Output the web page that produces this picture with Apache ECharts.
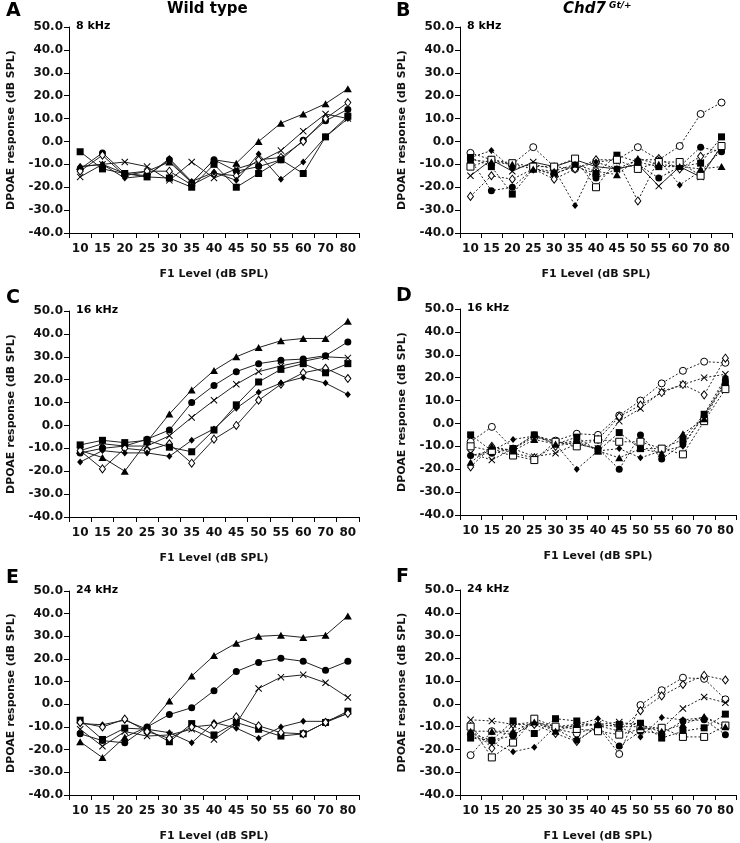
<!DOCTYPE html>
<html>
<head>
<meta charset="utf-8">
<script src="https://cdn.jsdelivr.net/npm/echarts@6/dist/echarts.min.js"></script>
<style>html,body{margin:0;padding:0;background:#fff}#main{width:740px;height:843px}</style>
</head>
<body>
<div id="main"></div>
<script>
const levels = ['10','15','20','25','30','35','40','45','50','55','60','70','80'];

// Wild type, 8 kHz
const wt8Tri  = [-11,-10,-14,-13,-9,-18,-8,-9.5,0,8,12,16.5,23];
const wt8Circ = [-12,-5,-14,-15,-8,-18,-8,-13,-11,-8,0.5,9,14];
const wt8X    = [-15.5,-10,-9,-11,-17,-9,-16,-12,-9,-4,4.5,12,10];
const wt8ODia = [-13,-6,-15,-13,-13,-19,-14,-15,-8,-7,0,10,17];
const wt8Sq   = [-4.5,-12,-14,-15.5,-16,-20,-10,-20,-14,-8,-14,2,11];
const wt8Dia  = [-11,-10,-16,-15,-7.5,-17.5,-13.5,-17,-5.5,-16.5,-9,2,10];

// Chd7 Gt/+, 8 kHz
const het8OCirc = [-5,-8,-10,-2.5,-11,-12,-9,-8,-2.5,-8,-2,12,17];
const het8Sq    = [-7,-11,-23,-12,-14,-11,-14,-6,-9,-11,-11,-9.5,2];
const het8Circ  = [-8,-21.5,-20,-12,-14.5,-10,-16,-12,-10,-16,-11,-2.5,-4.5];
const het8ODia  = [-24,-15,-16.5,-12,-16.5,-12,-8,-8,-26,-7.5,-12,-6.5,-3];
const het8Dia   = [-7,-4,-12,-10,-12,-28,-9,-12,-8,-8,-19,-13,-4];
const het8X     = [-15,-8,-13,-9,-11,-8,-11,-12,-10,-19.5,-11,-15.5,-2];
const het8OSq   = [-11,-8,-9.5,-11,-11,-7.5,-20,-8,-12,-9,-9,-15,-2];
const het8Tri   = [-8,-9,-10,-12,-13,-10,-13,-14.5,-7.5,-10,-11,-12,-11];

// Wild type, 16 kHz
const wt16Tri  = [-11,-14,-20,-7,5,15.5,24,30,34,37,38,38,45.5];
const wt16Circ = [-12,-10,-9,-6,-2,10,17.5,23.5,27,28.5,29,30.5,36.5];
const wt16X    = [-11,-8,-9,-9,-4.5,3.5,11,18,23.5,26,28,30,29.5];
const wt16ODia = [-11,-19,-10,-11,-8,-16.5,-6,0,11,18,23,25,20.5];
const wt16Sq   = [-8.5,-6.5,-7.5,-6.5,-9.5,-11.5,-2,9,19,24.5,27,23,27];
const wt16Dia  = [-16,-11,-12,-12,-13.5,-6.5,-1.5,7.5,14.5,18.5,21,18.5,13.5];

// Chd7 Gt/+, 16 kHz
const het16OCirc = [-8,-1.5,-11,-6,-7.5,-4.5,-5,3.5,10,17.5,23,27,26.5];
const het16X     = [-13,-16,-11,-14.5,-13,-9,-11,1,6.5,14,17,20,21.5];
const het16ODia  = [-19,-10,-13,-15,-10,-8,-7,3,8,13.5,17,12.5,28.5];
const het16Sq    = [-5,-12,-11,-5,-9,-6,-12,-4,-11,-11,-7,4,17];
const het16Circ  = [-14,-13,-11,-5,-8,-9,-11,-20,-5,-15.5,-9,3,19];
const het16Dia   = [-14,-12,-7,-5.5,-9,-20,-12,-11,-15,-12,-10,4,20];
const het16OSq   = [-10,-12,-14,-16,-8,-10,-7,-8,-8,-11,-13.5,1,15];
const het16Tri   = [-17,-10,-12,-7,-9,-7.5,-12,-15,-11,-13,-4.5,2,18];

// Wild type, 24 kHz
const wt24Tri  = [-16.5,-23.5,-14.5,-10,1.5,12.5,21.5,27,30,30.5,29.5,30.5,39];
const wt24Circ = [-13,-16,-17,-10,-4.5,-1.5,6,14.5,18.5,20.3,19,15,19];
const wt24X    = [-11,-18.5,-12,-14,-13.5,-11,-15.5,-8.5,7,12,13,9.5,3];
const wt24Sq   = [-7,-15.5,-10.5,-11,-16.5,-8.5,-13.5,-8,-11,-14,-13,-8,-3];
const wt24Dia  = [-8.5,-9,-7,-11,-12.5,-17,-8,-10.5,-15,-10,-7.5,-7.5,-4];
const wt24ODia = [-8,-10,-6.5,-12,-15,-10,-9,-5.5,-9.5,-12.5,-13,-8,-4];

// Chd7 Gt/+, 24 kHz
const het24OCirc = [-22.5,-12,-13.5,-8.5,-11,-13,-10,-22,-0.5,6,11.5,11,2];
const het24ODia  = [-10,-19.5,-9,-9,-13,-16.5,-9.5,-12,-3,3.5,8.5,12.5,10.5];
const het24X     = [-7,-7.5,-9,-8,-10,-10,-9,-8,-9.5,-11,-2,3,0.5];
const het24Sq    = [-15,-16,-7.5,-13,-6.5,-7.5,-10,-9,-8.5,-15,-12,-10.5,-4.5];
const het24Circ  = [-13,-16,-14,-7.5,-11,-16,-10,-18.5,-12,-13,-7.5,-7,-13.5];
const het24Dia   = [-14,-17,-21,-19,-10,-9,-6.5,-10,-14.5,-6,-7,-6,-10];
const het24OSq   = [-10,-23.5,-17,-6.5,-10,-11,-12,-13.5,-11,-10.5,-14.5,-14.5,-9.5];
const het24Tri   = [-12,-12,-12,-8,-12,-9,-9,-10,-10,-12,-9,-5.5,-10];

const XPATH = 'path://M0,1L1,0L5,4L9,0L10,1L6,5L10,9L9,10L5,6L1,10L0,9L4,5Z';
const marks = {
  tri:   { symbol: 'triangle', fill: '#000', size: [8, 7] },
  circ:  { symbol: 'circle',   fill: '#000', size: 7 },
  ocirc: { symbol: 'circle',   fill: '#fff', size: 7 },
  sq:    { symbol: 'rect',     fill: '#000', size: 7 },
  osq:   { symbol: 'rect',     fill: '#fff', size: 7 },
  dia:   { symbol: 'diamond',  fill: '#000', size: [6, 7] },
  odia:  { symbol: 'diamond',  fill: '#fff', size: [6, 8] },
  x:     { symbol: XPATH,      fill: '#000', size: 7 }
};

const panels = [
  { letter: 'A', freq: '8 kHz', left: 69, top: 27, width: 290, height: 206, dotted: false,
    lines: [[wt8Tri,'tri'],[wt8Circ,'circ'],[wt8X,'x'],[wt8ODia,'odia'],[wt8Sq,'sq'],[wt8Dia,'dia']] },
  { letter: 'B', freq: '8 kHz', left: 460, top: 27, width: 272, height: 206, dotted: true,
    lines: [[het8OCirc,'ocirc'],[het8Sq,'sq'],[het8Circ,'circ'],[het8ODia,'odia'],[het8Dia,'dia'],[het8X,'x',true],[het8OSq,'osq'],[het8Tri,'tri']] },
  { letter: 'C', freq: '16 kHz', left: 69, top: 311, width: 290, height: 206, dotted: false,
    lines: [[wt16Tri,'tri'],[wt16Circ,'circ'],[wt16X,'x'],[wt16ODia,'odia'],[wt16Sq,'sq'],[wt16Dia,'dia']] },
  { letter: 'D', freq: '16 kHz', left: 460, top: 309, width: 276, height: 206, dotted: true,
    lines: [[het16OCirc,'ocirc'],[het16X,'x'],[het16ODia,'odia'],[het16Sq,'sq'],[het16Circ,'circ'],[het16Dia,'dia'],[het16OSq,'osq'],[het16Tri,'tri']] },
  { letter: 'E', freq: '24 kHz', left: 69, top: 591, width: 290, height: 208, dotted: false,
    lines: [[wt24Tri,'tri'],[wt24Circ,'circ'],[wt24X,'x'],[wt24Sq,'sq'],[wt24Dia,'dia'],[wt24ODia,'odia']] },
  { letter: 'F', freq: '24 kHz', left: 460, top: 590, width: 276, height: 209, dotted: true,
    lines: [[het24OCirc,'ocirc'],[het24ODia,'odia'],[het24X,'x'],[het24Sq,'sq'],[het24Circ,'circ'],[het24Dia,'dia'],[het24OSq,'osq'],[het24Tri,'tri']] }
];

const FONT = 'DejaVu Sans';
const grid = [], xAxis = [], yAxis = [], series = [], graphic = [];

panels.forEach((p, i) => {
  grid.push({ left: p.left, top: p.top, width: p.width, height: p.height });
  xAxis.push({
    type: 'category', gridIndex: i, data: levels, boundaryGap: true,
    name: 'F1 Level (dB SPL)', nameLocation: 'middle', nameGap: 36,
    nameTextStyle: { fontFamily: FONT, fontWeight: 'bold', fontSize: 11, color: '#111' },
    axisLine: { onZero: false, lineStyle: { color: '#000', width: 1 } },
    axisTick: { show: true, length: 5, alignWithLabel: false, lineStyle: { color: '#000' } },
    axisLabel: { interval: 0, margin: 10, fontFamily: FONT, fontWeight: 'bold', fontSize: 12, color: '#111' },
    splitLine: { show: false }
  });
  yAxis.push({
    type: 'value', gridIndex: i, min: -40, max: 50, interval: 10,
    name: 'DPOAE response (dB SPL)', nameLocation: 'middle', nameGap: 52,
    nameTextStyle: { fontFamily: FONT, fontWeight: 'bold', fontSize: 11, color: '#111' },
    axisLine: { show: true, lineStyle: { color: '#000', width: 1 } },
    axisTick: { show: true, length: 5, lineStyle: { color: '#000' } },
    axisLabel: { margin: 6, fontFamily: FONT, fontWeight: 'bold', fontSize: 12, color: '#111',
      formatter: v => v.toFixed(1) },
    splitLine: { show: false }
  });
  p.lines.forEach(([vals, kind, solid]) => {
    const m = marks[kind];
    series.push({
      type: 'line', xAxisIndex: i, yAxisIndex: i, data: vals,
      symbol: m.symbol, symbolSize: m.size, showAllSymbol: true,
      lineStyle: { color: '#222', width: 1, type: (p.dotted && !solid) ? [2, 2] : 'solid' },
      itemStyle: { color: m.fill, borderColor: '#000', borderWidth: m.fill === '#fff' ? 1 : 0 },
      emphasis: { disabled: true }, animation: false
    });
  });
  const lx = p.left < 200 ? 6 : 396;
  graphic.push({ type: 'text', left: lx, top: i < 2 ? 2 : p.top - 22,
    style: { text: p.letter, fontFamily: FONT, fontWeight: 'bold', fontSize: 19, fill: '#000' } });
  graphic.push({ type: 'text', left: p.left + 7, top: p.top - 6,
    style: { text: p.freq, fontFamily: FONT, fontWeight: 'bold', fontSize: 11, fill: '#000' } });
});

graphic.push({ type: 'text', left: 167, top: 2,
  style: { text: 'Wild type', fontFamily: FONT, fontWeight: 'bold', fontSize: 15, fill: '#000' } });
graphic.push({ type: 'text', left: 563, top: 2,
  style: { text: 'Chd7', fontFamily: FONT, fontWeight: 'bold', fontStyle: 'italic', fontSize: 15, fill: '#000' } });
graphic.push({ type: 'text', left: 609, top: 1,
  style: { text: 'Gt/+', fontFamily: FONT, fontWeight: 'bold', fontStyle: 'italic', fontSize: 9, fill: '#000' } });

const chart = echarts.init(document.getElementById('main'), null, { renderer: 'canvas' });
chart.setOption({ animation: false, backgroundColor: '#fff', grid, xAxis, yAxis, series, graphic });
</script>
</body>
</html>
